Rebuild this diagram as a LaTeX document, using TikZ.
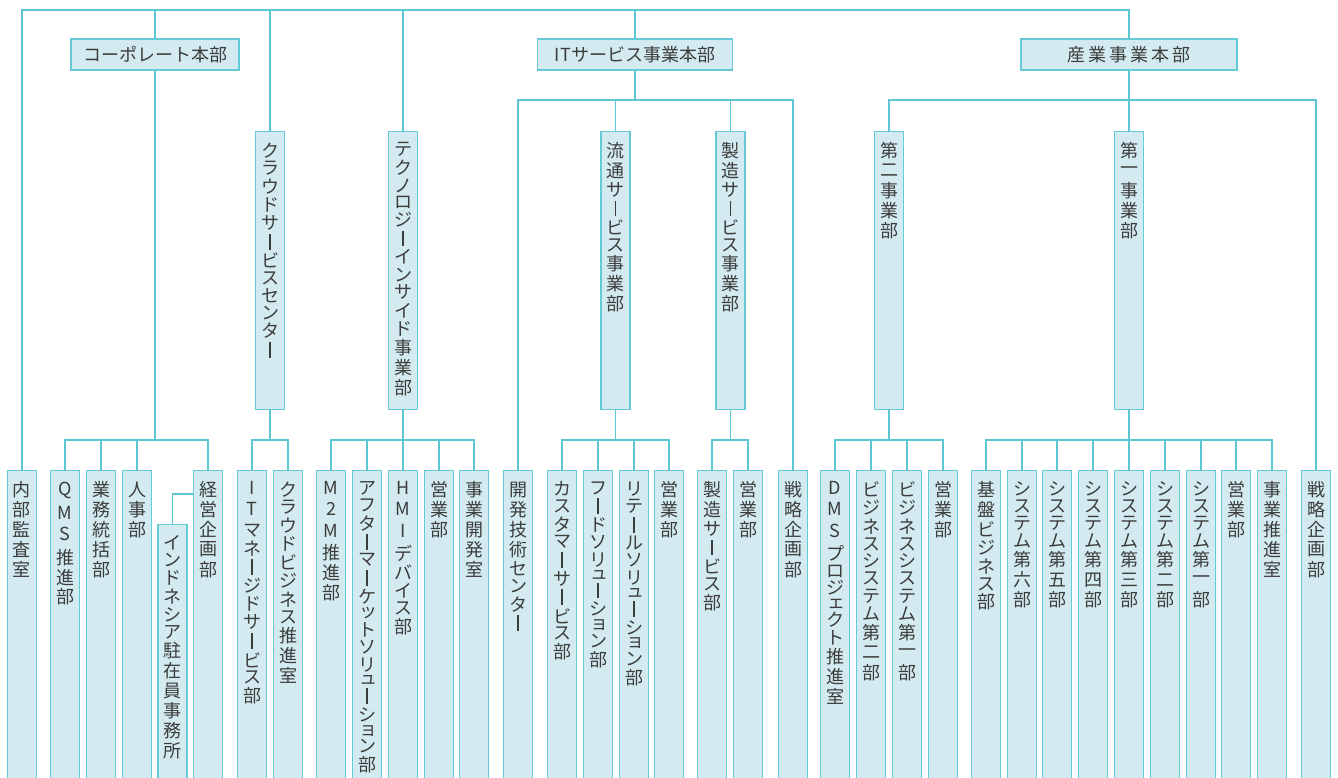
\documentclass[tikz,border=0pt]{standalone}
\usepackage{fontspec}
\newfontfamily\jp{Noto Sans CJK JP}
\definecolor{ln}{HTML}{5CC6D4}
\definecolor{bx}{HTML}{D3EBF0}
\definecolor{bd}{HTML}{66C9D7}
\definecolor{tx}{HTML}{3C3C3C}
\XeTeXuseglyphmetrics=1
\def\vtA#1{\ifx#1\relax\else\vtcell#1\expandafter\vtA\fi}
\newcommand\vt[1]{\vbox{\offinterlineskip\vtA#1\relax}}
\def\vtcell#1{%
  \ifnum`#1<256\relax
    \hbox to 18pt{\hss#1\hss}\vskip 8pt
  \else
    \ifnum`#1>"4DFF\relax
      \vbox to 16pt{\vss\hbox to 18pt{\hss#1\hss}\vss}\vskip 4pt
    \else
      \ifx#1ー
        \hbox to 18pt{\hss\vrule width 1.1pt height 15.5pt depth 0pt\hss}\vskip 3.5pt
      \else
        \vtsk#1%
      \fi
    \fi
  \fi}
\def\vtsk#1{%
  \ifx#1ッ\vtsmall#1\else
  \ifx#1ュ\vtsmall#1\else
  \ifx#1ョ\vtsmall#1\else
  \ifx#1ェ\vtsmall#1\else
  \hbox to 18pt{\hss#1\hss}\vskip 3.5pt
  \fi\fi\fi\fi}
\def\vtsmall#1{\hbox to 18pt{\hss\kern3pt #1\hss}\vskip 3.5pt}
\newcommand\vcol[2]{\vbox to #1{\vskip 11pt\hbox to 29pt{\hss\vt{#2}\hss}\vss}}
\tikzset{
  conn/.style={draw=ln, line width=1.3pt},
  topbox/.style={draw=bd, fill=bx, line width=1.2pt, minimum height=31pt, inner sep=0pt, text=tx, font=\jp\fontsize{18pt}{20pt}\selectfont},
  vbx/.style={draw=bd, fill=bx, line width=1.2pt, inner sep=0pt, minimum width=29pt, anchor=north, text=tx, font=\jp\fontsize{18pt}{20pt}\selectfont},
}
\newcommand\leaf[3]{\node[vbx] (#1) at (#2,470) {\vcol{320pt}{#3}};}
\newcommand\midbox[3]{\node[vbx] (#1) at (#2,131) {\vcol{278pt}{#3}};}
\newcommand\branch[4]{%
  \draw[conn] (#1.south) -- (#1.south |- 0,#2);
  \draw[conn] (#3.north) -- (#3.north |- 0,#2) -| (#4.north);}
\newcommand\drop[2]{\draw[conn] (#1.north) -- (#1.north |- 0,#2);}
\begin{document}
\begin{tikzpicture}[x=1pt,y=-1pt]
\useasboundingbox (0,0) rectangle (1338,778);
\clip (0,0) rectangle (1338,778);
\fill[white] (0,0) rectangle (1338,778);
% top level
\node[topbox, minimum width=168pt] (corp) at (155,54.5) {コーポレート本部};
\node[topbox, minimum width=195pt] (it) at (635,54.5) {ITサービス事業本部};
\node[topbox, minimum width=216pt] (sangyo) at (1129,54.5) {産\kern3pt 業\kern3pt 事\kern3pt 業\kern3pt 本\kern3pt 部};
% middle
\midbox{cloud}{270}{クラウドサービスセンター}
\midbox{tech}{403}{テクノロジーインサイド事業部}
\midbox{ryutsu}{615.5}{流通サービス事業部}
\midbox{seizo}{730.5}{製造サービス事業部}
\midbox{dai2}{889}{第二事業部}
\midbox{dai1}{1129}{第一事業部}
% leaves
\leaf{naibu}{22}{内部監査室}
\leaf{qms}{65}{QMS推進部}
\leaf{gyomu}{101}{業務統括部}
\leaf{jinji}{137}{人事部}
\node[vbx] (indo) at (172.5,524) {\vcol{270pt}{インドネシア駐在員事務所}};
\leaf{keiei}{208}{経営企画部}
\leaf{itm}{252}{ITマネージドサービス部}
\leaf{cbiz}{288}{クラウドビジネス推進室}
\leaf{m2m}{331}{M2M推進部}
\leaf{after}{367}{アフターマーケットソリューション部}
\leaf{hmi}{403}{HMIデバイス部}
\leaf{eigyoA}{439}{営業部}
\leaf{jkaihatsu}{474}{事業開発室}
\leaf{kaihatsu}{518}{開発技術センター}
\leaf{cust}{562}{カスタマーサービス部}
\leaf{food}{598}{フードソリューション部}
\leaf{retail}{634}{リテールソリューション部}
\leaf{eigyoB}{669}{営業部}
\leaf{seizosvc}{712}{製造サービス部}
\leaf{eigyoC}{748}{営業部}
\leaf{senA}{793}{戦略企画部}
\leaf{dms}{835}{DMSプロジェクト推進室}
\leaf{bs2}{871}{ビジネスシステム第二部}
\leaf{bs1}{907}{ビジネスシステム第一部}
\leaf{eigyoD}{943}{営業部}
\leaf{kiban}{986}{基盤ビジネス部}
\leaf{sys6}{1022}{システム第六部}
\leaf{sys5}{1057}{システム第五部}
\leaf{sys4}{1093}{システム第四部}
\leaf{sys3}{1129}{システム第三部}
\leaf{sys2}{1165}{システム第二部}
\leaf{sys1}{1201}{システム第一部}
\leaf{eigyoE}{1236}{営業部}
\leaf{jsuishin}{1272}{事業推進室}
\leaf{senB}{1316}{戦略企画部}
% connectors
\coordinate (tr) at (1129,10);
\draw[conn] (naibu.north) |- (tr) -- (sangyo.north);
\draw[conn] (corp.north) -- (corp.north |- tr);
\draw[conn] (cloud.north) -- (cloud.north |- tr);
\draw[conn] (tech.north) -- (tech.north |- tr);
\draw[conn] (it.north) -- (it.north |- tr);
\branch{corp}{440}{qms}{keiei}
\drop{gyomu}{440}\drop{jinji}{440}
\draw[conn] (keiei.west |- 0,494) -| (indo.north);
\branch{cloud}{440}{itm}{cbiz}
\branch{tech}{440}{m2m}{jkaihatsu}
\drop{after}{440}\drop{hmi}{440}\drop{eigyoA}{440}
\branch{it}{100}{kaihatsu}{senA}
\drop{ryutsu}{100}\drop{seizo}{100}
\branch{ryutsu}{440}{cust}{eigyoB}
\drop{food}{440}\drop{retail}{440}
\branch{seizo}{440}{seizosvc}{eigyoC}
\branch{sangyo}{100}{dai2}{senB}
\drop{dai1}{100}
\branch{dai2}{440}{dms}{eigyoD}
\drop{bs2}{440}\drop{bs1}{440}
\branch{dai1}{440}{kiban}{jsuishin}
\drop{sys6}{440}\drop{sys5}{440}\drop{sys4}{440}\drop{sys3}{440}\drop{sys2}{440}\drop{sys1}{440}\drop{eigyoE}{440}
\end{tikzpicture}
\end{document}
